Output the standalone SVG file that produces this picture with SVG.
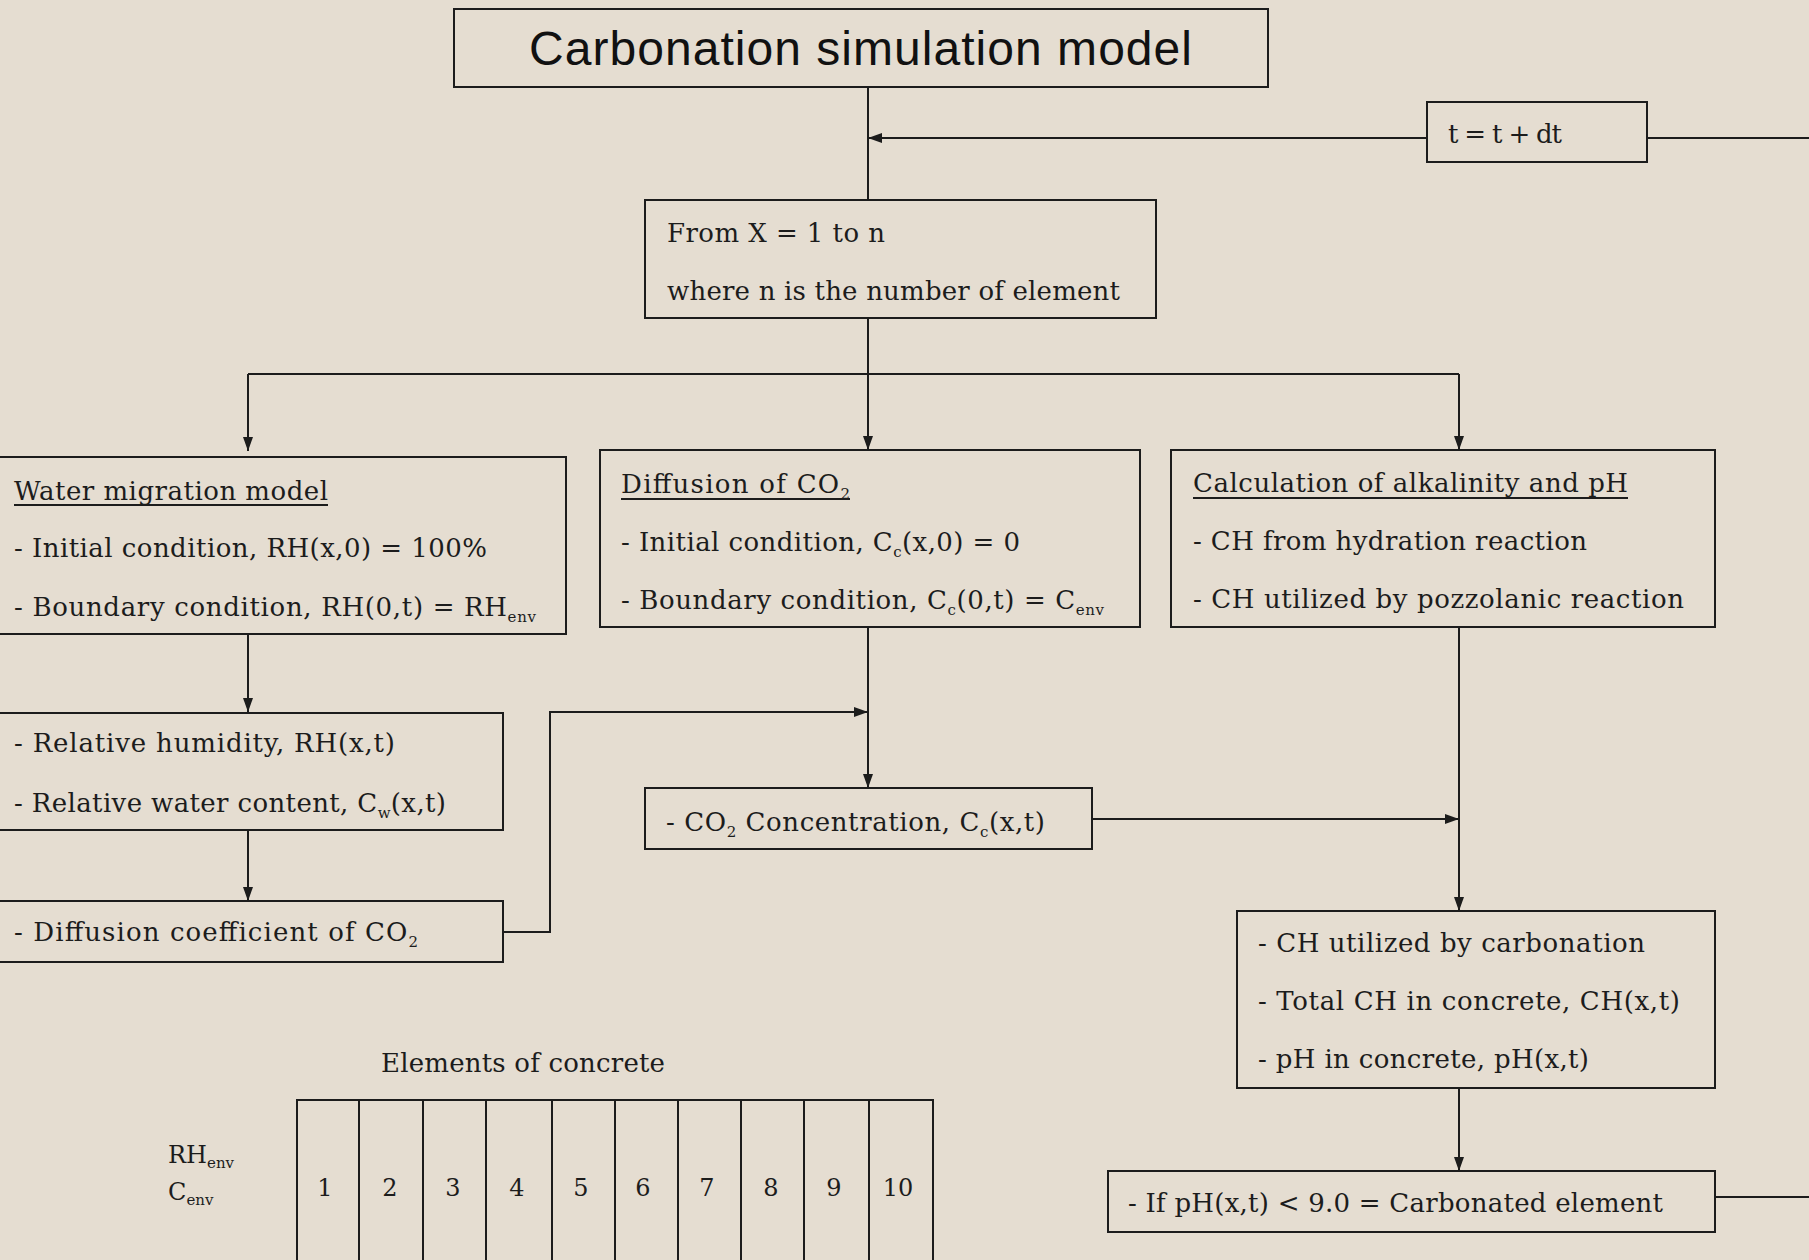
<svg xmlns="http://www.w3.org/2000/svg" width="1809" height="1260" viewBox="0 0 1809 1260">
<defs>
<marker id="arr" viewBox="0 0 14 10" refX="14" refY="5" markerWidth="14" markerHeight="10" markerUnits="userSpaceOnUse" orient="auto">
<path d="M0,0 L14,5 L0,10 z" fill="#1c1c1c"/>
</marker>
<style>
.box{fill:none;stroke:#1c1c1c;stroke-width:2}
.t{font-family:"DejaVu Serif","Liberation Serif",serif;font-size:26px;fill:#1c1c1c}
.ul{stroke:#1c1c1c;stroke-width:2}
.title{font-family:"Liberation Sans",Arial,sans-serif;font-size:48px;fill:#111}
.c{fill:none;stroke:#1c1c1c;stroke-width:2}
.sub{font-size:15px}
.num{font-family:"DejaVu Serif","Liberation Serif",serif;font-size:24px;fill:#1c1c1c;text-anchor:middle}
</style>
</defs>
<rect x="0" y="0" width="1809" height="1260" fill="#e5ddd1"/>

<g id="connectors">
<path class="c" d="M868,87 V200"/>
<path class="c" d="M1427,138 H868" marker-end="url(#arr)"/>
<path class="c" d="M1647,138 H1809"/>
<path class="c" d="M868,318 V450" marker-end="url(#arr)"/>
<path class="c" d="M248,374 H1459"/>
<path class="c" d="M248,374 V451" marker-end="url(#arr)"/>
<path class="c" d="M1459,374 V450" marker-end="url(#arr)"/>
<path class="c" d="M248,634 V712" marker-end="url(#arr)"/>
<path class="c" d="M248,830 V901" marker-end="url(#arr)"/>
<path class="c" d="M503,932 H550 V712 H868" marker-end="url(#arr)"/>
<path class="c" d="M868,628 V788" marker-end="url(#arr)"/>
<path class="c" d="M1092,819 H1459" marker-end="url(#arr)"/>
<path class="c" d="M1459,628 V911" marker-end="url(#arr)"/>
<path class="c" d="M1459,1088 V1171" marker-end="url(#arr)"/>
<path class="c" d="M1715,1197 H1809"/>
</g>

<g id="title">
<rect class="box" x="454" y="9" width="814" height="78"/>
<text class="title" x="529" y="65" textLength="663" lengthAdjust="spacing">Carbonation simulation model</text>
</g>

<g id="timestep">
<rect class="box" x="1427" y="102" width="220" height="60"/>
<text class="t" x="1448" y="143" textLength="114" lengthAdjust="spacing">t = t + dt</text>
</g>

<g id="loop">
<rect class="box" x="645" y="200" width="511" height="118"/>
<text class="t" x="667" y="242" textLength="218" lengthAdjust="spacing">From X = 1 to n</text>
<text class="t" x="667" y="300" textLength="453" lengthAdjust="spacing">where n is the number of element</text>
</g>

<g id="water">
<rect class="box" x="-2" y="457" width="568" height="177"/>
<text class="t" x="14" y="500" textLength="314" lengthAdjust="spacing">Water migration model</text>
<line class="ul" x1="14" y1="505" x2="328" y2="505"/>
<text class="t" x="14" y="557" textLength="473" lengthAdjust="spacing">- Initial condition, RH(x,0) = 100%</text>
<text class="t" x="14" y="616" textLength="522" lengthAdjust="spacing">- Boundary condition, RH(0,t) = RH<tspan class="sub" dy="6">env</tspan></text>
</g>

<g id="diffusion">
<rect class="box" x="600" y="450" width="540" height="177"/>
<text class="t" x="621" y="493" textLength="229" lengthAdjust="spacing">Diffusion of CO<tspan class="sub" dy="6">2</tspan></text>
<line class="ul" x1="621" y1="499" x2="850" y2="499"/>
<text class="t" x="621" y="551" textLength="399" lengthAdjust="spacing">- Initial condition, C<tspan class="sub" dy="6">c</tspan><tspan dy="-6">(x,0) = 0</tspan></text>
<text class="t" x="621" y="609" textLength="483" lengthAdjust="spacing">- Boundary condition, C<tspan class="sub" dy="6">c</tspan><tspan dy="-6">(0,t) = C</tspan><tspan class="sub" dy="6">env</tspan></text>
</g>

<g id="alkalinity">
<rect class="box" x="1171" y="450" width="544" height="177"/>
<text class="t" x="1193" y="492" textLength="435" lengthAdjust="spacing">Calculation of alkalinity and pH</text>
<line class="ul" x1="1193" y1="498" x2="1628" y2="498"/>
<text class="t" x="1193" y="550" textLength="394" lengthAdjust="spacing">- CH from hydration reaction</text>
<text class="t" x="1193" y="608" textLength="491" lengthAdjust="spacing">- CH utilized by pozzolanic reaction</text>
</g>

<g id="humidity">
<rect class="box" x="-2" y="713" width="505" height="117"/>
<text class="t" x="14" y="752" textLength="381" lengthAdjust="spacing">- Relative humidity, RH(x,t)</text>
<text class="t" x="14" y="812" textLength="432" lengthAdjust="spacing">- Relative water content, C<tspan class="sub" dy="6">w</tspan><tspan dy="-6">(x,t)</tspan></text>
</g>

<g id="diffcoef">
<rect class="box" x="-2" y="901" width="505" height="61"/>
<text class="t" x="14" y="941" textLength="404" lengthAdjust="spacing">- Diffusion coefficient of CO<tspan class="sub" dy="6">2</tspan></text>
</g>

<g id="co2conc">
<rect class="box" x="645" y="788" width="447" height="61"/>
<text class="t" x="666" y="831" textLength="379" lengthAdjust="spacing">- CO<tspan class="sub" dy="6">2</tspan><tspan dy="-6"> Concentration, C</tspan><tspan class="sub" dy="6">c</tspan><tspan dy="-6">(x,t)</tspan></text>
</g>

<g id="chcalc">
<rect class="box" x="1237" y="911" width="478" height="177"/>
<text class="t" x="1258" y="952" textLength="387" lengthAdjust="spacing">- CH utilized by carbonation</text>
<text class="t" x="1258" y="1010" textLength="422" lengthAdjust="spacing">- Total CH  in concrete, CH(x,t)</text>
<text class="t" x="1258" y="1068" textLength="331" lengthAdjust="spacing">- pH in concrete, pH(x,t)</text>
</g>

<g id="carbonated">
<rect class="box" x="1108" y="1171" width="607" height="61"/>
<text class="t" x="1128" y="1212" textLength="535" lengthAdjust="spacing">- If pH(x,t) &lt; 9.0 = Carbonated element</text>
</g>

<g id="elements">
<text class="t" x="381" y="1072" textLength="284" lengthAdjust="spacing">Elements of concrete</text>
<text class="t" x="168" y="1163" style="font-size:24px">RH<tspan class="sub" dy="5">env</tspan></text>
<text class="t" x="168" y="1200" style="font-size:24px">C<tspan class="sub" dy="5">env</tspan></text>
<path class="c" d="M297,1262 V1100 H933 V1262 M359,1100 V1262 M423,1100 V1262 M486,1100 V1262 M552,1100 V1262 M615,1100 V1262 M678,1100 V1262 M741,1100 V1262 M804,1100 V1262 M869,1100 V1262"/>
<text class="num" x="325" y="1196">1</text>
<text class="num" x="390" y="1196">2</text>
<text class="num" x="453" y="1196">3</text>
<text class="num" x="517" y="1196">4</text>
<text class="num" x="581" y="1196">5</text>
<text class="num" x="643" y="1196">6</text>
<text class="num" x="707" y="1196">7</text>
<text class="num" x="771" y="1196">8</text>
<text class="num" x="834" y="1196">9</text>
<text class="num" x="898" y="1196">10</text>
</g>
</svg>
